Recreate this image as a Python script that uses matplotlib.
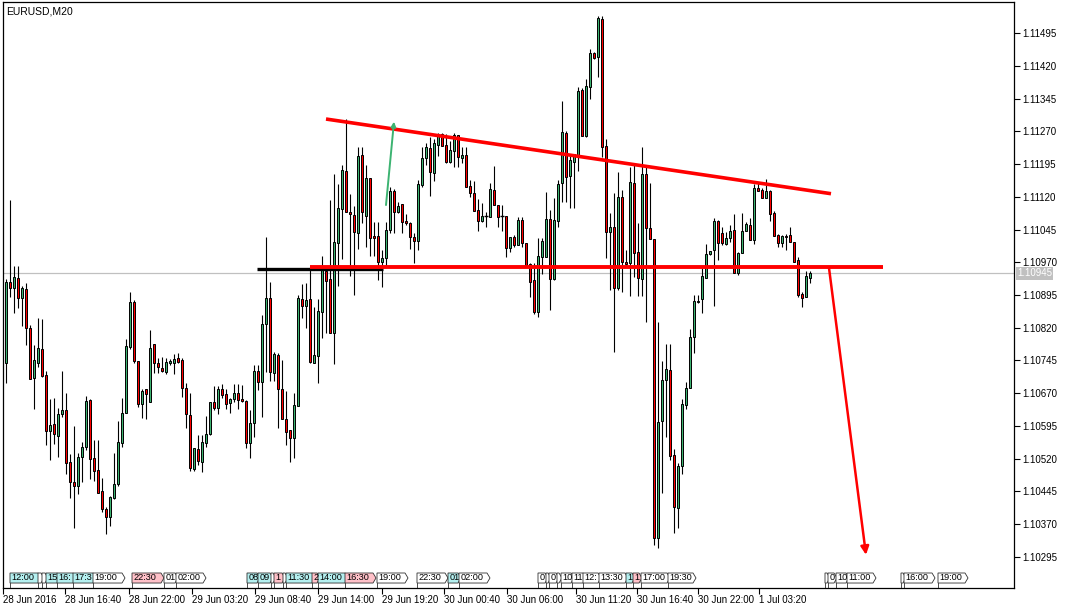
import matplotlib
matplotlib.use('Agg')
import matplotlib.pyplot as plt
from matplotlib.patches import Rectangle, Polygon
import matplotlib.transforms as mtransforms

plt.rcParams['font.family'] = ['Liberation Sans', 'DejaVu Sans']

opens = [1.10739,1.10925,1.10911,1.10934,1.10888,1.10909,1.10819,1.10705,1.10739,1.10771,
 1.10712,1.10584,1.10600,1.10572,1.10623,1.10632,1.10513,1.10467,1.10458,1.10524,
 1.10547,1.10655,1.10522,1.10494,1.10446,1.10405,1.10387,1.10430,1.10462,1.10556,
 1.10625,1.10776,1.10879,1.10744,1.10645,1.10680,1.10650,1.10783,1.10739,1.10728,
 1.10719,1.10739,1.10739,1.10751,1.10746,1.10682,1.10620,1.10497,1.10542,1.10513,
 1.10556,1.10577,1.10650,1.10636,1.10680,1.10668,1.10648,1.10657,1.10671,1.10657,
 1.10652,1.10556,1.10602,1.10721,1.10696,1.10829,1.10888,1.10716,1.10758,1.10680,
 1.10611,1.10586,1.10568,1.10641,1.10886,1.10870,1.10886,1.10739,1.10755,1.10856,
 1.10950,1.10932,1.10808,1.11014,1.11092,1.11179,1.11085,1.11078,1.11037,1.11216,
 1.11076,1.11163,1.11030,1.11030,1.10971,1.10980,1.11044,1.11133,1.11085,1.11103,
 1.11065,1.11060,1.11028,1.11019,1.11147,1.11209,1.11232,1.11174,1.11239,1.11264,
 1.11239,1.11200,1.11225,1.11261,1.11209,1.11216,1.11145,1.11129,1.11090,1.11065,
 1.11074,1.11074,1.11136,1.11101,1.11076,1.11076,1.11003,1.11028,1.11010,1.11067,
 1.11014,1.10966,1.10929,1.10856,1.10982,1.10982,1.11069,1.10932,1.11065,1.11152,
 1.11266,1.11168,1.11200,1.11216,1.11365,1.11259,1.11371,1.11449,1.11440,1.11527,
 1.11236,1.11039,1.11051,1.10911,1.11120,1.10971,1.10968,1.11152,1.10994,1.10932,
 1.11172,1.11049,1.11023,1.10339,1.10607,1.10700,1.10723,1.10529,1.10407,1.10504,
 1.10643,1.10682,1.10799,1.10879,1.10886,1.10934,1.10989,1.10998,1.11065,1.11037,
 1.11012,1.11026,1.11044,1.10945,1.10991,1.11042,1.11055,1.11021,1.11140,1.11136,
 1.11117,1.11133,1.11083,1.11032,1.11014,1.11030,1.11032,1.11016,1.10975,1.10897,
 1.10890,1.10934]
highs = [1.10932,1.11113,1.10961,1.10961,1.10916,1.10922,1.10826,1.10780,1.10842,1.10840,
 1.10721,1.10657,1.10659,1.10636,1.10721,1.10671,1.10531,1.10595,1.10533,1.10558,
 1.10664,1.10657,1.10563,1.10563,1.10476,1.10410,1.10435,1.10533,1.10607,1.10659,
 1.10794,1.10902,1.10884,1.10744,1.10680,1.10680,1.10815,1.10783,1.10751,1.10753,
 1.10751,1.10749,1.10760,1.10762,1.10751,1.10694,1.10671,1.10545,1.10574,1.10574,
 1.10618,1.10650,1.10687,1.10687,1.10691,1.10680,1.10659,1.10691,1.10691,1.10689,
 1.10655,1.10632,1.10735,1.10735,1.10849,1.11028,1.10925,1.10765,1.10762,1.10746,
 1.10675,1.10586,1.10671,1.10895,1.10920,1.10922,1.10959,1.10868,1.10886,1.10984,
 1.10961,1.11113,1.11172,1.11149,1.11193,1.11298,1.11126,1.11099,1.11234,1.11234,
 1.11193,1.11163,1.11062,1.11062,1.10998,1.11062,1.11142,1.11138,1.11108,1.11103,
 1.11081,1.11062,1.11037,1.11158,1.11234,1.11243,1.11257,1.11252,1.11266,1.11266,
 1.11264,1.11248,1.11266,1.11261,1.11234,1.11234,1.11158,1.11156,1.11115,1.11106,
 1.11085,1.11152,1.11191,1.11101,1.11101,1.11076,1.11028,1.11032,1.11074,1.11074,
 1.11014,1.10968,1.10968,1.11026,1.11026,1.11131,1.11090,1.11117,1.11158,1.11339,
 1.11271,1.11216,1.11218,1.11371,1.11369,1.11390,1.11458,1.11452,1.11534,1.11534,
 1.11252,1.11083,1.11129,1.11177,1.11136,1.10998,1.11188,1.11197,1.11060,1.11234,
 1.11191,1.11152,1.11023,1.10833,1.10744,1.10783,1.10783,1.10542,1.10510,1.10657,
 1.10696,1.10817,1.10895,1.10895,1.10957,1.11012,1.10996,1.11071,1.11067,1.11051,
 1.11039,1.11055,1.11081,1.10994,1.11083,1.11062,1.11071,1.11149,1.11154,1.11140,
 1.11161,1.11136,1.11087,1.11035,1.11032,1.11035,1.11051,1.11016,1.10982,1.10902,
 1.10950,1.10950]
lows = [1.10693,1.10890,1.10854,1.10865,1.10824,1.10780,1.10703,1.10634,1.10730,1.10707,
 1.10551,1.10517,1.10554,1.10524,1.10616,1.10485,1.10430,1.10361,1.10439,1.10467,
 1.10540,1.10474,1.10469,1.10442,1.10398,1.10348,1.10366,1.10428,1.10458,1.10547,
 1.10625,1.10771,1.10739,1.10639,1.10613,1.10611,1.10650,1.10716,1.10716,1.10719,
 1.10714,1.10735,1.10714,1.10739,1.10662,1.10591,1.10492,1.10492,1.10506,1.10490,
 1.10547,1.10574,1.10632,1.10623,1.10659,1.10634,1.10625,1.10650,1.10634,1.10650,
 1.10545,1.10522,1.10570,1.10678,1.10616,1.10719,1.10698,1.10698,1.10591,1.10611,
 1.10551,1.10513,1.10522,1.10641,1.10842,1.10819,1.10739,1.10739,1.10693,1.10797,
 1.10808,1.10808,1.10737,1.10916,1.10978,1.11085,1.10939,1.10895,1.11000,1.11060,
 1.11005,1.10984,1.10984,1.10929,1.10913,1.10961,1.11037,1.11037,1.11083,1.11037,
 1.11055,1.11000,1.10968,1.10998,1.11142,1.11193,1.11122,1.11156,1.11213,1.11236,
 1.11197,1.11197,1.11188,1.11188,1.11197,1.11142,1.11120,1.11087,1.11042,1.11062,
 1.11051,1.11074,1.11101,1.11051,1.11042,1.10982,1.10994,1.11005,1.11010,1.11005,
 1.10964,1.10890,1.10851,1.10845,1.10943,1.10982,1.10861,1.10929,1.11051,1.11108,
 1.11108,1.11094,1.11094,1.11179,1.11259,1.11257,1.11344,1.11436,1.11394,1.11211,
 1.10980,1.10907,1.10765,1.10907,1.10902,1.10964,1.10893,1.10936,1.10893,1.10893,
 1.10833,1.11023,1.10323,1.10316,1.10442,1.10570,1.10517,1.10350,1.10361,1.10485,
 1.10634,1.10682,1.10762,1.10877,1.10854,1.10934,1.10987,1.10870,1.10975,1.11010,
 1.11010,1.11016,1.10945,1.10941,1.10991,1.11042,1.11021,1.11012,1.11133,1.11117,
 1.11117,1.11065,1.11030,1.11005,1.11005,1.10998,1.11016,1.10971,1.10890,1.10868,
 1.10890,1.10922]
closes = [1.10925,1.10911,1.10936,1.10888,1.10911,1.10819,1.10703,1.10746,1.10774,1.10710,
 1.10584,1.10597,1.10577,1.10623,1.10632,1.10510,1.10467,1.10458,1.10524,1.10547,
 1.10652,1.10520,1.10492,1.10442,1.10405,1.10387,1.10433,1.10462,1.10558,1.10625,
 1.10778,1.10879,1.10744,1.10645,1.10675,1.10668,1.10774,1.10739,1.10730,1.10721,
 1.10742,1.10744,1.10749,1.10742,1.10682,1.10623,1.10499,1.10545,1.10515,1.10558,
 1.10577,1.10650,1.10636,1.10680,1.10666,1.10645,1.10657,1.10671,1.10655,1.10652,
 1.10556,1.10602,1.10721,1.10696,1.10829,1.10888,1.10719,1.10760,1.10680,1.10611,
 1.10581,1.10568,1.10643,1.10888,1.10870,1.10884,1.10742,1.10758,1.10858,1.10952,
 1.10927,1.10808,1.11016,1.11094,1.11181,1.11085,1.11081,1.11039,1.11213,1.11085,
 1.11163,1.11026,1.11026,1.10971,1.10980,1.11044,1.11133,1.11085,1.11099,1.11062,
 1.11060,1.11028,1.11019,1.11149,1.11209,1.11234,1.11177,1.11243,1.11264,1.11236,
 1.11200,1.11227,1.11261,1.11211,1.11216,1.11142,1.11129,1.11087,1.11065,1.11076,
 1.11076,1.11138,1.11101,1.11074,1.11074,1.11003,1.11028,1.11010,1.11067,1.11014,
 1.10964,1.10925,1.10856,1.10984,1.11019,1.11069,1.10932,1.11067,1.11149,1.11268,
 1.11165,1.11204,1.11218,1.11362,1.11259,1.11374,1.11449,1.11438,1.11529,1.11234,
 1.11039,1.11051,1.10911,1.11120,1.10971,1.10966,1.11154,1.10991,1.10934,1.11172,
 1.11049,1.11023,1.10339,1.10604,1.10700,1.10726,1.10526,1.10410,1.10504,1.10645,
 1.10682,1.10799,1.10881,1.10881,1.10939,1.10989,1.10996,1.11065,1.11014,1.11014,
 1.11026,1.11042,1.10945,1.10991,1.11042,1.11058,1.11021,1.11140,1.11133,1.11117,
 1.11133,1.11081,1.11030,1.11014,1.11030,1.11028,1.11016,1.10971,1.10895,1.10888,
 1.10939,1.10945]

price_ticks = [1.10295, 1.10370, 1.10445, 1.10520, 1.10595, 1.10670, 1.10745, 1.10820,
               1.10895, 1.10970, 1.11045, 1.11120, 1.11195, 1.11270, 1.11345, 1.11420, 1.11495]
date_labels = ['28 Jun 2016', '28 Jun 16:40', '28 Jun 22:00', '29 Jun 03:20', '29 Jun 08:40',
               '29 Jun 14:00', '29 Jun 19:20', '30 Jun 00:40', '30 Jun 06:00', '30 Jun 11:20',
               '30 Jun 16:40', '30 Jun 22:00', '1 Jul 03:20']
date_tick_bars = [-0.75, 14.75, 30.75, 46.5, 62.25, 78, 94, 109.5, 125.25, 142.5, 157.75, 173, 188.25]
bid_price = 1.10945

# drawn objects (bar index, price)
resistance_line = [(80, 1.11298), (206.25, 1.11127)]
support_line = [(76, 1.10958), (219.25, 1.10958)]
black_level = [(62.75, 1.10954), (94.25, 1.10954)]
green_arrow = [(95, 1.11101), (97, 1.11292)]
red_arrow = [(205.75, 1.10957), (215, 1.10300)]

# calendar event tags along the bottom: text, colour kind, start bar, end bar
event_texts = ['12:00', '', '', '15', '16:', '17:3', '19:00', '22:30', '01', '02:00',
               '08', '09', '', '1', '', '11:30', '2', '14:00', '16:30', '19:00', '22:30',
               '01', '02:00', '0', '', '0', '', '10', '11', '12:', '13:30', '1', '1',
               '17:00', '19:30', '', '0', '10', '11:00', '', '16:00', '19:00']
event_kind = ['c', 'w', 'w', 'c', 'c', 'c', 'w', 'p', 'w', 'w',
              'c', 'c', 'w', 'p', 'w', 'c', 'p', 'c', 'p', 'w', 'w',
              'c', 'w', 'w', 'w', 'w', 'w', 'w', 'w', 'w', 'w', 'c', 'p',
              'w', 'w', 'w', 'w', 'w', 'w', 'w', 'w', 'w']
event_start = [1.0, 8.0, 9.0, 10.0, 12.75, 16.75, 21.75, 31.5, 39.5, 42.5,
               60.25, 63.0, 66.25, 67.0, 69.25, 70.0, 76.5, 78.0, 84.75, 92.75, 102.75,
               110.5, 113.25, 133.0, 135.0, 135.75, 137.75, 138.75, 141.5, 144.25, 148.25, 155.0, 156.75,
               158.75, 165.5, 204.75, 205.5, 207.5, 210.25, 223.75, 224.5, 233.0]
event_end = [8.0, 8.75, 9.75, 12.75, 16.75, 21.75, 29.0, 38.75, 42.25, 49.25,
             62.75, 66.0, 66.75, 69.0, 69.75, 76.5, 77.75, 84.75, 91.75, 99.75, 109.75,
             113.0, 120.25, 134.75, 135.5, 137.5, 138.25, 141.25, 144.25, 148.0, 154.75, 156.5, 158.25,
             165.25, 171.75, 205.25, 207.0, 210.0, 216.75, 224.25, 231.5, 239.75]

GREEN = '#3CB371'
RED = '#FF0000'
KIND_COL = {'c': '#B4F0F0', 'p': '#FFC0C8', 'w': '#FFFFFF'}

W, H = 1067, 609
fig = plt.figure(figsize=(W / 100, H / 100), dpi=100)
fig.patch.set_facecolor('white')
ax = fig.add_axes([3 / W, 21 / H, 1011 / W, 586 / H])
ax.set_xlim(-0.75, 252)
ax.set_ylim(1.10224, 1.11566)

# bid line
ax.axhline(bid_price, color='#C0C0C0', lw=0.9, zorder=1)

# candles
for i, (o, h, l, c) in enumerate(zip(opens, highs, lows, closes)):
    col = GREEN if c >= o else RED
    ax.vlines(i, l, h, color='black', lw=0.8, zorder=2)
    lo, hi = min(o, c), max(o, c)
    if hi - lo < 0.00002:
        ax.hlines((o + c) / 2, i - 0.4, i + 0.4, color='black', lw=1.0, zorder=3)
    else:
        ax.add_patch(Rectangle((i - 0.27, lo), 0.54, hi - lo, facecolor=col,
                               edgecolor='black', lw=0.7, zorder=3))

# drawings
ax.plot(*zip(*black_level), color='black', lw=2.4, zorder=4, solid_capstyle='butt')
ax.plot(*zip(*resistance_line), color=RED, lw=2.6, zorder=5, solid_capstyle='butt')
ax.plot(*zip(*support_line), color=RED, lw=2.8, zorder=5, solid_capstyle='butt')
ax.annotate('', xy=green_arrow[1], xytext=green_arrow[0],
            arrowprops=dict(arrowstyle='-|>', color=GREEN, lw=1.4, mutation_scale=7,
                            shrinkA=0, shrinkB=0), zorder=6)
ax.annotate('', xy=red_arrow[1], xytext=red_arrow[0],
            arrowprops=dict(arrowstyle='-|>', color=RED, lw=1.8, mutation_scale=12,
                            shrinkA=0, shrinkB=0), zorder=6)

# event tags
trans = mtransforms.blended_transform_factory(ax.transData, ax.transAxes)
y_top, y_bot, y_mid = 0.0256, 0.0085, 0.0171
for txt, kind, s, e in zip(event_texts, event_kind, event_start, event_end):
    poly = Polygon([(s, y_top), (e, y_top), (e + 0.75, y_mid), (e, y_bot), (s, y_bot)],
                   closed=True, transform=trans, facecolor=KIND_COL[kind],
                   edgecolor='#303030', lw=0.6, zorder=7, clip_on=False)
    ax.add_patch(poly)
    ax.plot([s, s], [y_bot, 0.0], transform=trans, color='#303030', lw=0.6, zorder=7)
    if txt:
        t = ax.text(s + 0.3, y_mid, txt, transform=trans, fontsize=6.6, va='center',
                    ha='left', color='black', zorder=8)
        t.set_clip_path(poly)

# axes styling
for sp in ax.spines.values():
    sp.set_color('black')
    sp.set_linewidth(0.9)
ax.yaxis.tick_right()
ax.set_yticks(price_ticks)
ax.set_yticklabels([f'{p:.5f}' for p in price_ticks])
ax.set_xticks(date_tick_bars)
ax.set_xticklabels(date_labels)
for lab in ax.get_xticklabels():
    lab.set_ha('left')
ax.tick_params(axis='y', direction='out', length=4, width=0.8, labelsize=7, pad=2, colors='black')
ax.tick_params(axis='x', direction='out', length=4, width=0.8, labelsize=7, pad=1, colors='black')
ax.tick_params(axis='x', which='major', labelbottom=True)

# current price label
ax.annotate(f'{bid_price:.5f}', xy=(1.0, bid_price), xycoords=('axes fraction', 'data'),
            xytext=(3, 0), textcoords='offset pixels', fontsize=7, color='white',
            va='center', ha='left',
            bbox=dict(boxstyle='square,pad=0.15', facecolor='#C0C0C0', edgecolor='none'),
            annotation_clip=False, zorder=10)

ax.text(0.003, 0.993, 'EURUSD,M20', transform=ax.transAxes, fontsize=7.5,
        va='top', ha='left', color='black')

fig.savefig('out.png', dpi=100, facecolor='white')
